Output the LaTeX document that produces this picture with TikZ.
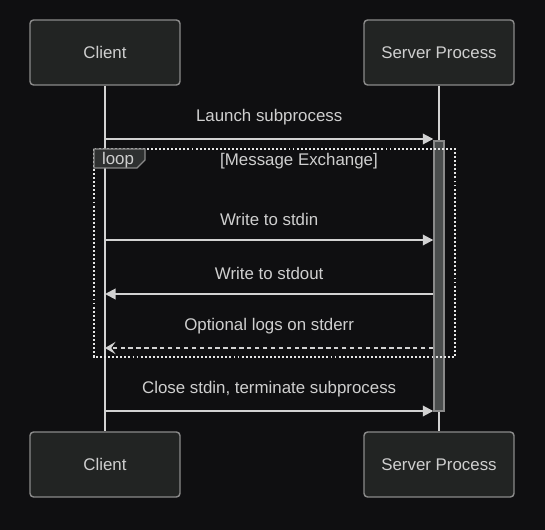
\documentclass[tikz,border=0pt]{standalone}
\usepackage{fontspec}
\setmainfont{Liberation Sans}
\usepackage{xcolor}
\usepackage{tikz}
\usetikzlibrary{arrows.meta, positioning, calc}

\definecolor{bgdark}{HTML}{0F0F11}
\definecolor{boxfill}{HTML}{222423}
\definecolor{boxline}{HTML}{8A8A8A}
\definecolor{txtgray}{HTML}{CFCFCF}
\definecolor{wire}{HTML}{D2D2D2}
\definecolor{barfill}{HTML}{4A4D4D}
\definecolor{tabfill}{HTML}{2E3030}

\begin{document}
\begin{tikzpicture}[
  x=0.02cm, y=-0.02cm,
  actor/.style={rectangle, draw=boxline, fill=boxfill, rounded corners=2pt, line width=0.8pt, minimum width=3cm, minimum height=1.3cm, text=txtgray, font=\fontsize{9.6}{11.5}\selectfont},
  lifeline/.style={draw=wire, line width=1.1pt},
  actbar/.style={rectangle, draw=boxline, fill=barfill, line width=0.8pt, minimum width=0.2cm, minimum height=5.4cm, inner sep=0pt},
  msg/.style={draw=wire, line width=1.1pt, -{Triangle[length=6pt, width=6pt]}},
  reply/.style={draw=wire, line width=1.1pt, dash pattern=on 2.5pt off 2pt, -{Stealth[length=6pt, width=7pt, inset=2.5pt]}},
  msglabel/.style={text=txtgray, font=\fontsize{9.6}{11.5}\selectfont},
  loopframe/.style={draw=white!90!black, line width=1.1pt, dash pattern=on 1.1pt off 1.2pt}
]

\useasboundingbox[fill=bgdark] (0,0) rectangle (545,530);

%% Participants
\node[actor] (clientTop) at (105, 52.5) {Client};
\node[actor] (serverTop) at (439, 52.5) {Server Process};
\node[actor] (clientBot) at (105, 464.5) {Client};
\node[actor] (serverBot) at (439, 464.5) {Server Process};

%% Lifelines
\draw[lifeline] (clientTop) -- (clientBot);
\draw[lifeline] (serverTop) -- (serverBot);

%% Activation
\node[actbar] (act) at (439, 276) {};

%% Message rows on the client lifeline
\coordinate (launch) at (105, 139);
\coordinate (stdin) at (105, 240);
\coordinate (stdout) at (105, 294);
\coordinate (stderr) at (105, 348);
\coordinate (close) at (105, 411);

%% Loop frame
\draw[loopframe] (94, 149) rectangle (455, 357);
\draw[draw=boxline, fill=tabfill, line width=0.8pt] (94, 149) -- (145, 149) -- (145, 160) -- (137, 168) -- (94, 168) -- cycle;
\node[msglabel] (looptag) at (118, 160) {loop};
\node[msglabel] (loopcond) at (299, 161.5) {[Message Exchange]};

%% Messages
\draw[msg] (launch) -- node[msglabel, above=4.3pt] {Launch subprocess} (launch -| act.west);
\draw[msg] (stdin) -- node[msglabel, above=4.3pt] {Write to stdin} (stdin -| act.west);
\draw[msg] (stdout -| act.west) -- node[msglabel, above=4.3pt] {Write to stdout} (stdout);
\draw[reply] (stderr -| act.west) -- node[msglabel, above=4.3pt] {Optional logs on stderr} (stderr);
\draw[msg] (close) -- node[msglabel, above=4.3pt] {Close stdin, terminate subprocess} (close -| act.west);

\end{tikzpicture}
\end{document}
